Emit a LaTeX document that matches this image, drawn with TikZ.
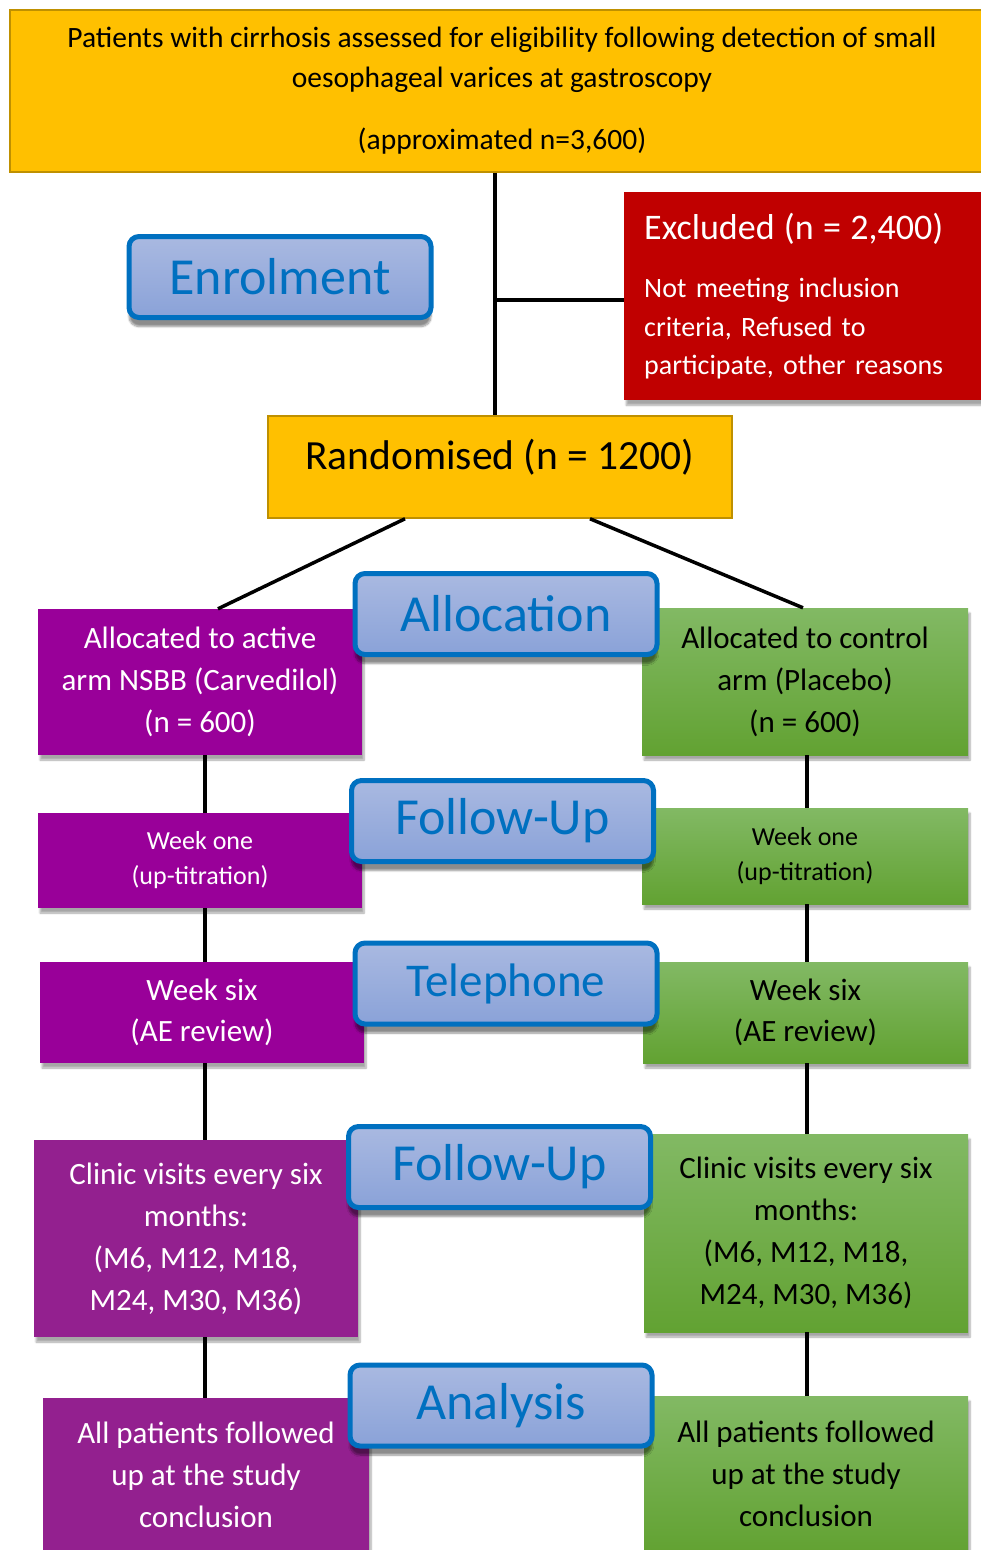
\documentclass[tikz,border=0pt]{standalone}
\usepackage{fontspec}
\setmainfont{Carlito}
\usetikzlibrary{shadows.blur}
\definecolor{gold}{HTML}{FFC000}
\definecolor{goldline}{HTML}{BF9000}
\definecolor{exred}{HTML}{C00000}
\definecolor{purpA}{HTML}{990099}
\definecolor{purpB}{HTML}{93208F}
\definecolor{greenT}{HTML}{82B964}
\definecolor{greenB}{HTML}{62A232}
\definecolor{blueT}{HTML}{A9B9E1}
\definecolor{blueB}{HTML}{8AA2D8}
\definecolor{blueline}{HTML}{0070C0}
\begin{document}
\begin{tikzpicture}[x=1pt,y=-1pt,
  conn/.style={line width=3.5pt, black},
  goldbox/.style={draw=goldline, line width=1.5pt, fill=gold, align=center, inner sep=0pt},
  armbox/.style={blur shadow={shadow xshift=2pt, shadow yshift=-5pt, shadow blur steps=6, shadow opacity=35}, inner sep=0pt, align=center, font=\fontsize{31}{42}\selectfont},
  purp/.style={armbox, fill=purpA, text=white},
  purpb/.style={armbox, fill=purpB, text=white},
  grn/.style={armbox, top color=greenT, bottom color=greenB, text=black},
  phase/.style={draw=blueline, line width=5pt, rounded corners=10pt, top color=blueT, bottom color=blueB, text=blueline, minimum width=302pt, minimum height=81pt, inner sep=0pt, font=\fontsize{52}{56}\selectfont, blur shadow={shadow xshift=0pt, shadow yshift=-9pt, shadow blur steps=8, shadow opacity=45}}
]
\useasboundingbox (0,0) rectangle (981,1550);

\coordinate (trunk) at (495,300);

% boxes
\node[goldbox, minimum width=984pt, minimum height=162pt, font=\fontsize{29.5}{40}\selectfont] (top) at (502,91)
  {Patients with cirrhosis assessed for eligibility following detection of small\\oesophageal varices at gastroscopy\\[22pt](approximated n=3,600)};

\node[goldbox, minimum width=464pt, minimum height=102pt, font=\fontsize{41.5}{46}\selectfont] (rand) at (500,467)
  {\raisebox{26pt}{Randomised (n = 1200)}};

\draw[conn] (top.south -| trunk) -- (rand.north -| trunk);
\draw[conn] (trunk) -- (624,300) coordinate (exw);

\node[armbox, fill=exred, text=white, anchor=north west, minimum width=370pt, minimum height=208pt, text width=330pt, align=left, font=\fontsize{28}{38.5}\selectfont] (excl) at (624,192)
  {{\fontsize{36}{40}\selectfont Excluded (n = 2,400)}\\[20pt]Not meeting inclusion\\criteria, Refused to\\participate, other reasons};

\node[phase] (enrol) at (280,277) {Enrolment};

\coordinate (Lx) at (205,0);
\coordinate (Rx) at (807,0);

\node[purp, minimum width=324pt, minimum height=146pt] (p1) at (200,682)
  {Allocated to active\\arm NSBB (Carvedilol)\\(n = 600)};
\node[grn, minimum width=326pt, minimum height=147pt] (g1) at (805,681.5)
  {Allocated to control\\arm (Placebo)\\(n = 600)};

\draw[conn] ([xshift=-95pt]rand.south) -- ([xshift=18pt]p1.north);
\draw[conn] ([xshift=90pt]rand.south) -- ([xshift=-2pt]g1.north);

\node[purp, minimum width=324pt, minimum height=95pt, font=\fontsize{26}{35}\selectfont] (p2) at (200,860.5)
  {Week one\\(up-titration)};
\node[grn, minimum width=326pt, minimum height=96pt, font=\fontsize{26}{35}\selectfont] (g2) at (805,856)
  {Week one\\(up-titration)};

\node[purp, minimum width=324pt, minimum height=101pt, font=\fontsize{31}{41}\selectfont] (p3) at (202,1012.5)
  {Week six\\(AE review)};
\node[grn, minimum width=325pt, minimum height=101pt, font=\fontsize{31}{41}\selectfont] (g3) at (805.5,1012.5)
  {Week six\\(AE review)};

\node[purpb, minimum width=324pt, minimum height=197pt] (p4) at (196,1238.5)
  {Clinic visits every six\\months:\\(M6, M12, M18,\\M24, M30, M36)};
\node[grn, minimum width=324pt, minimum height=198pt] (g4) at (806,1233)
  {Clinic visits every six\\months:\\(M6, M12, M18,\\M24, M30, M36)};

\node[purpb, minimum width=326pt, minimum height=154pt, font=\fontsize{31}{42}\selectfont] (p5) at (206,1475)
  {All patients followed\\up at the study\\conclusion};
\node[grn, minimum width=324pt, minimum height=156pt, font=\fontsize{31}{42}\selectfont] (g5) at (806,1474)
  {All patients followed\\up at the study\\conclusion};

\draw[conn] (p1.south -| Lx) -- (p2.north -| Lx);
\draw[conn] (p2.south -| Lx) -- (p3.north -| Lx);
\draw[conn] (p3.south -| Lx) -- (p4.north -| Lx);
\draw[conn] (p4.south -| Lx) -- (p5.north -| Lx);
\draw[conn] (g1.south -| Rx) -- (g2.north -| Rx);
\draw[conn] (g2.south -| Rx) -- (g3.north -| Rx);
\draw[conn] (g3.south -| Rx) -- (g4.north -| Rx);
\draw[conn] (g4.south -| Rx) -- (g5.north -| Rx);

% phase labels on top
\node[phase] (alloc) at (506,614) {Allocation};
\node[phase] (fu1) at (502.5,821) {Follow-Up};
\node[phase, font=\fontsize{47}{50}\selectfont] (tel) at (506,983.5) {Telephone};
\node[phase] (fu2) at (499.5,1167) {Follow-Up};
\node[phase] (anal) at (501,1405.5) {Analysis};
\end{tikzpicture}
\end{document}
